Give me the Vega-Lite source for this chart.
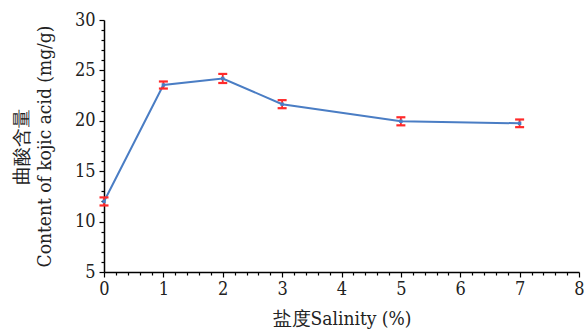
{
  "$schema": "https://vega.github.io/schema/vega-lite/v6.json",
  "autosize": {"type": "none"},
  "width": 475,
  "height": 252,
  "padding": {"left": 104, "top": 20, "right": 5, "bottom": 59},
  "background": "white",
  "config": {
    "view": {"stroke": null},
    "font": "DejaVu Serif Condensed",
    "axis": {
      "labelFont": "DejaVu Serif Condensed",
      "titleFont": "DejaVu Serif Condensed",
      "labelFontSize": 18,
      "titleFontSize": 19,
      "titleFontWeight": "normal",
      "labelColor": "#222",
      "titleColor": "#222",
      "domainColor": "#000",
      "tickColor": "#000",
      "domainWidth": 1.5,
      "tickWidth": 1.2,
      "grid": false
    }
  },
  "data": {
    "values": [
      {"salinity": 0, "kojic": 12.0, "err": 0.4},
      {"salinity": 1, "kojic": 23.55, "err": 0.35},
      {"salinity": 2, "kojic": 24.2, "err": 0.45},
      {"salinity": 3, "kojic": 21.65, "err": 0.4},
      {"salinity": 5, "kojic": 19.95, "err": 0.4},
      {"salinity": 7, "kojic": 19.75, "err": 0.38}
    ]
  },
  "transform": [
    {"calculate": "datum.kojic - datum.err", "as": "lo"},
    {"calculate": "datum.kojic + datum.err", "as": "hi"}
  ],
  "encoding": {
    "x": {
      "field": "salinity", "type": "quantitative",
      "scale": {"domain": [0, 8], "nice": false, "zero": false},
      "axis": {
        "title": "盐度Salinity (%)",
        "values": [0,0.2,0.4,0.6,0.8,1,1.2,1.4,1.6,1.8,2,2.2,2.4,2.6,2.8,3,3.2,3.4,3.6,3.8,4,4.2,4.4,4.6,4.8,5,5.2,5.4,5.6,5.8,6,6.2,6.4,6.6,6.8,7,7.2,7.4,7.6,7.8,8],
        "labelExpr": "abs(datum.value - round(datum.value)) < 0.001 ? format(datum.value, 'd') : ''",
        "tickSize": {"condition": {"test": "abs(datum.value - round(datum.value)) < 0.001", "value": 5}, "value": 3},
        "labelPadding": 3,
        "labelFlush": false,
        "labelOverlap": false,
        "titlePadding": 11
      }
    },
    "y": {
      "type": "quantitative",
      "scale": {"domain": [5, 30], "nice": false, "zero": false},
      "axis": {
        "title": ["曲酸含量", "Content of kojic acid (mg/g)"],
        "titleLineHeight": 23,
        "values": [5,6,7,8,9,10,11,12,13,14,15,16,17,18,19,20,21,22,23,24,25,26,27,28,29,30],
        "labelExpr": "datum.value % 5 === 0 ? datum.label : ''",
        "tickSize": {"condition": {"test": "datum.value % 5 === 0", "value": 5}, "value": 3},
        "labelPadding": 4,
        "labelOverlap": false,
        "titlePadding": 20
      }
    }
  },
  "layer": [
    {
      "mark": {"type": "line", "color": "#4a7dc4", "strokeWidth": 2},
      "encoding": {"y": {"field": "kojic"}}
    },
    {
      "mark": {"type": "rule", "color": "#ff2a2a", "strokeWidth": 1.8},
      "encoding": {"y": {"field": "lo"}, "y2": {"field": "hi"}}
    },
    {
      "mark": {"type": "tick", "orient": "horizontal", "color": "#ff2a2a", "thickness": 2.2, "size": 9, "opacity": 1},
      "encoding": {"y": {"field": "lo"}}
    },
    {
      "mark": {"type": "tick", "orient": "horizontal", "color": "#ff2a2a", "thickness": 2.2, "size": 9, "opacity": 1},
      "encoding": {"y": {"field": "hi"}}
    },
    {
      "mark": {"type": "square", "color": "#4a7dc4", "filled": true, "size": 12, "opacity": 1},
      "encoding": {"y": {"field": "kojic"}}
    }
  ]
}
